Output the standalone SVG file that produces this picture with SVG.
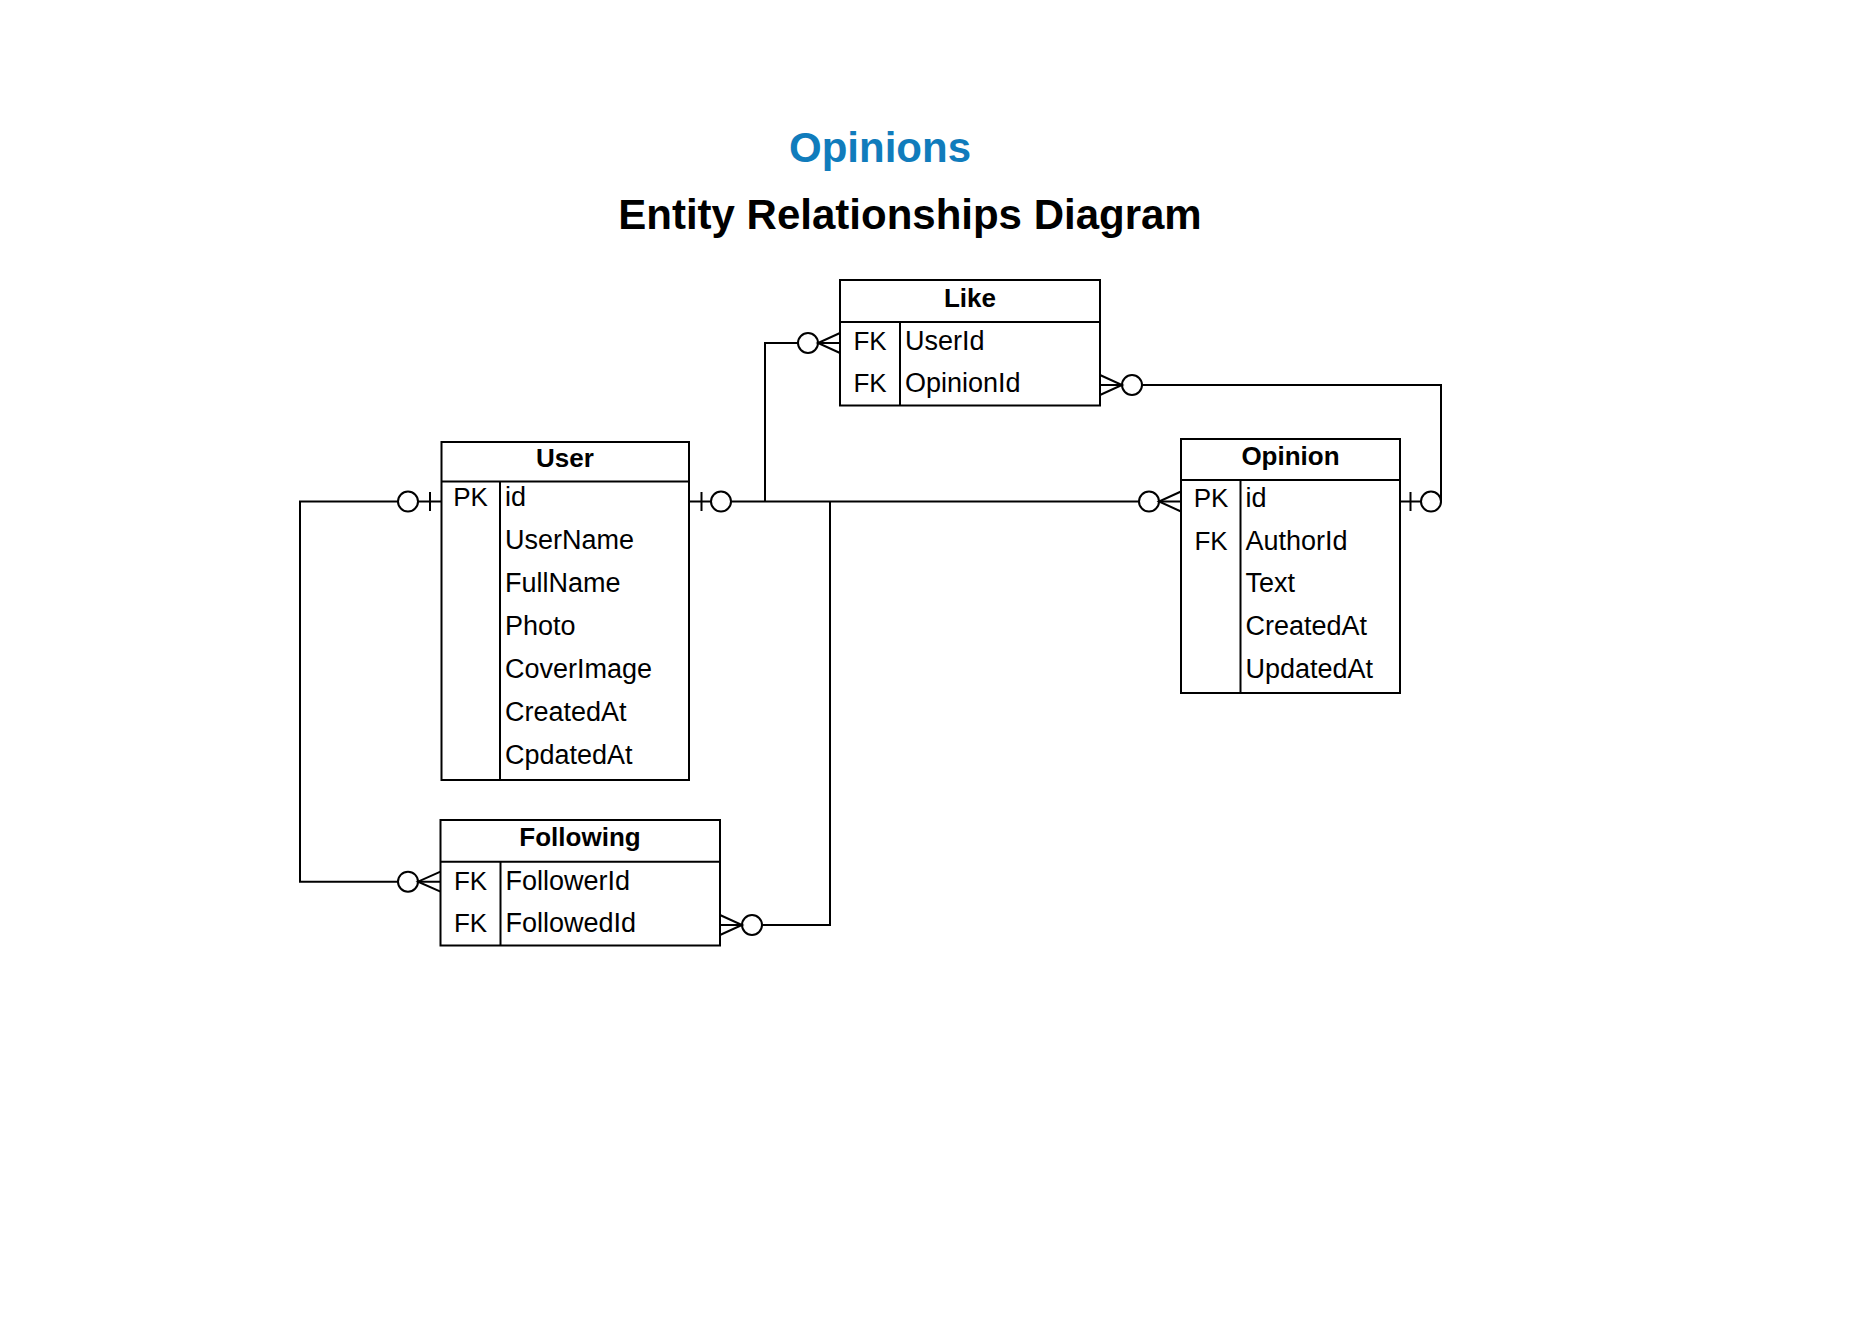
<svg xmlns="http://www.w3.org/2000/svg" width="1869" height="1323" viewBox="0 0 1869 1323">
<style>
.bg{fill:#ffffff}
.box{fill:#ffffff;stroke:#000000;stroke-width:2}
.ln{fill:none;stroke:#000000;stroke-width:2}
.circ{fill:#ffffff;stroke:#000000;stroke-width:2}
.title{font-family:"Liberation Sans",Arial,sans-serif;font-weight:bold;font-size:42px;text-anchor:middle}
.h{font-family:"Liberation Sans",Arial,sans-serif;font-weight:bold;font-size:26px;text-anchor:middle;fill:#000}
.k{font-family:"Liberation Sans",Arial,sans-serif;font-size:26px;text-anchor:middle;fill:#000}
.r{font-family:"Liberation Sans",Arial,sans-serif;font-size:27px;fill:#000}
</style>
<rect class="bg" x="0" y="0" width="1869" height="1323"/>

<g id="title">
<text class="title" x="880" y="162" fill="#107CBC">Opinions</text>
<text class="title" x="910" y="229" fill="#000000" font-size="42.3">Entity Relationships Diagram</text>
</g>

<g id="connectors">
<path class="ln" d="M690 501.5 H1181"/>
<path class="ln" d="M765 501.5 V343 H840"/>
<path class="ln" d="M830 501.5 V925 H720"/>
<path class="ln" d="M441.5 501.5 H300 V881.7 H440.5"/>
<path class="ln" d="M1400 501.5 H1441 V385 H1100"/>

<path class="ln" d="M701.5 492 V511"/>
<circle class="circ" cx="721" cy="501.5" r="10"/>
<circle class="circ" cx="1149" cy="501.5" r="10"/>
<path class="ln" d="M1181 491.5 L1159 501.5 L1181 511.5"/>
<circle class="circ" cx="808" cy="343" r="10"/>
<path class="ln" d="M840 333 L818 343 L840 353"/>
<circle class="circ" cx="752" cy="925" r="10"/>
<path class="ln" d="M720 915 L742 925 L720 935"/>
<path class="ln" d="M430 492 V511"/>
<circle class="circ" cx="408" cy="501.5" r="10"/>
<circle class="circ" cx="408" cy="881.7" r="10"/>
<path class="ln" d="M440.5 871.7 L418 881.7 L440.5 891.7"/>
<path class="ln" d="M1410.5 492 V511"/>
<circle class="circ" cx="1431" cy="501.5" r="10"/>
<circle class="circ" cx="1132" cy="385" r="10"/>
<path class="ln" d="M1100 375 L1122 385 L1100 395"/>
</g>

<g id="user">
<rect class="box" x="441.5" y="442" width="247.5" height="338"/>
<path class="ln" d="M441.5 481.5 H689 M500 481.5 V780"/>
<text class="h" x="565" y="467">User</text>
<text class="k" x="470.5" y="506">PK</text>
<text class="r" x="505" y="506">id</text>
<text class="r" x="505" y="549">UserName</text>
<text class="r" x="505" y="592">FullName</text>
<text class="r" x="505" y="635">Photo</text>
<text class="r" x="505" y="678">CoverImage</text>
<text class="r" x="505" y="721">CreatedAt</text>
<text class="r" x="505" y="764">CpdatedAt</text>
</g>

<g id="opinion">
<rect class="box" x="1181" y="439" width="219" height="254"/>
<path class="ln" d="M1181 480 H1400 M1240.5 480 V693"/>
<text class="h" x="1290.5" y="465">Opinion</text>
<text class="k" x="1211" y="507">PK</text>
<text class="k" x="1211" y="549.7">FK</text>
<text class="r" x="1245.5" y="507">id</text>
<text class="r" x="1245.5" y="549.7">AuthorId</text>
<text class="r" x="1245.5" y="592.4">Text</text>
<text class="r" x="1245.5" y="635">CreatedAt</text>
<text class="r" x="1245.5" y="677.8">UpdatedAt</text>
</g>

<g id="like">
<rect class="box" x="840" y="280" width="260" height="125.5"/>
<path class="ln" d="M840 322 H1100 M900 322 V405.5"/>
<text class="h" x="970" y="307">Like</text>
<text class="k" x="870" y="350">FK</text>
<text class="k" x="870" y="392">FK</text>
<text class="r" x="905" y="350">UserId</text>
<text class="r" x="905" y="392">OpinionId</text>
</g>

<g id="following">
<rect class="box" x="440.5" y="820" width="279.5" height="125.5"/>
<path class="ln" d="M440.5 861.7 H720 M500.5 861.7 V945.5"/>
<text class="h" x="580" y="846">Following</text>
<text class="k" x="470.5" y="889.5">FK</text>
<text class="k" x="470.5" y="931.5">FK</text>
<text class="r" x="505.5" y="889.5">FollowerId</text>
<text class="r" x="505.5" y="931.5">FollowedId</text>
</g>
</svg>
